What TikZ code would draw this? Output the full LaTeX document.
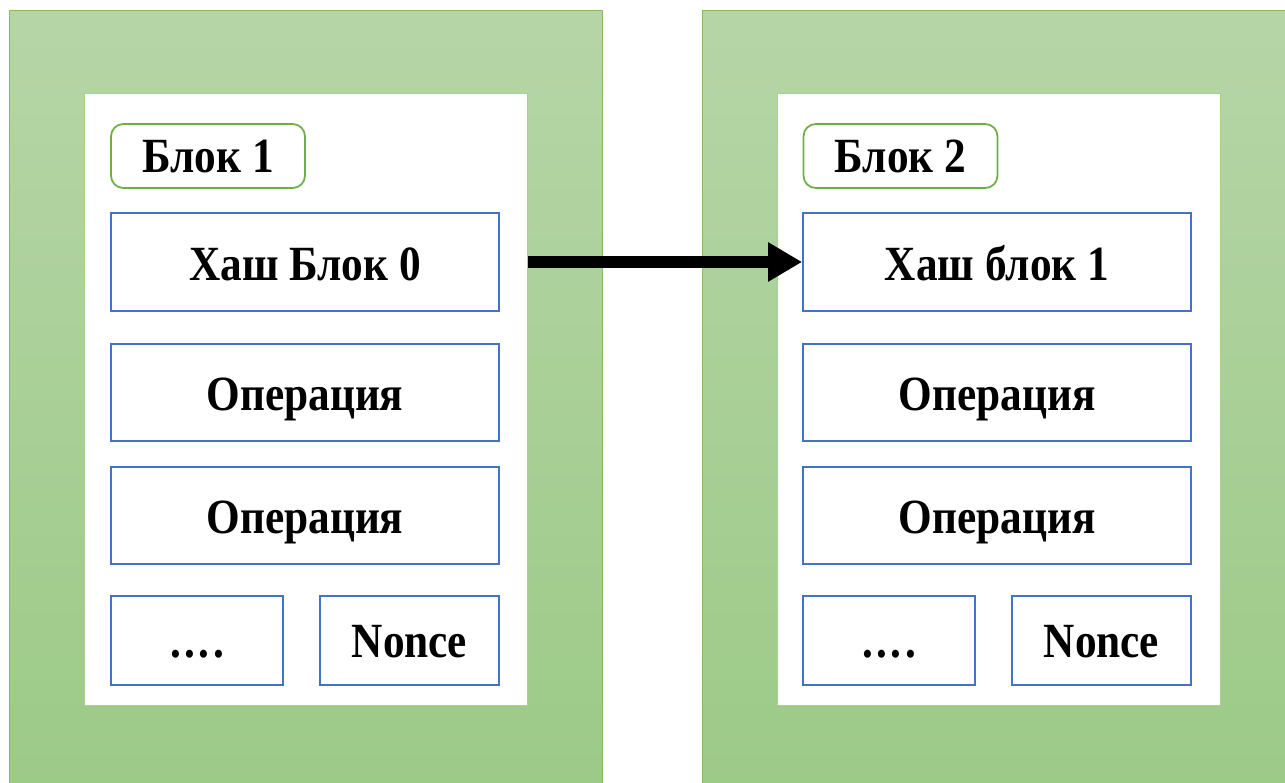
\documentclass[tikz,border=0pt]{standalone}
\usepackage{fontspec}
\setmainfont{Liberation Serif}[FakeStretch=0.88]
\usepackage{tikz}
\usetikzlibrary{shapes,arrows,arrows.meta,positioning}
\definecolor{chaingreen}{HTML}{70AD47}
\definecolor{lightgreen}{HTML}{A9D18E}
\definecolor{boxblue}{HTML}{4472C4}
\tikzstyle{chainbox} = [rectangle, draw=chaingreen!85, line width=0.6pt, top color={rgb,255:red,182;green,213;blue,167}, bottom color={rgb,255:red,156;green,202;blue,135}, minimum width=11.88cm, minimum height=15.6cm, inner sep=0pt]
\tikzstyle{pagebox} = [rectangle, fill=white, draw=lightgreen, line width=0.6pt, minimum width=8.88cm, minimum height=12.26cm, inner sep=0pt]
\tikzstyle{titlebox} = [rectangle, rounded corners=7pt, fill=white, draw=chaingreen, line width=1pt, minimum width=3.88cm, minimum height=1.28cm, inner sep=0pt, text height=0.68cm, text depth=0pt, font=\fontsize{28}{30}\selectfont\bfseries]
\tikzstyle{fieldbox} = [rectangle, fill=white, draw=boxblue, line width=1pt, minimum width=7.76cm, minimum height=1.95cm, inner sep=0pt, text height=0.74cm, text depth=0pt, font=\fontsize{28}{30}\selectfont\bfseries]
\tikzstyle{smallbox} = [fieldbox, minimum width=3.5cm, minimum height=1.78cm, text height=0.7cm]
\tikzstyle{line} = [draw, line width=0.25cm, -{Triangle[length=0.68cm,width=0.74cm]}]

\begin{document}
\begin{tikzpicture}[x=0.02cm, y=-0.02cm]
			\clip (0, 0) rectangle (1285, 783);
			\fill [white] (0, 0) rectangle (1285, 783);

			% block 1
			\node [chainbox] (chain1) at (306, 400) {};
			\node [pagebox] (page1) at (306, 399.5) {};
			\node [titlebox] (title1) at (208, 156) {Блок 1};
			\node [fieldbox] (hash1) at (305, 262) {Хаш Блок 0};
			\node [fieldbox] (op11) at (305, 392.5) {Операция};
			\node [fieldbox] (op12) at (305, 515.5) {Операция};
			\node [smallbox, minimum width=3.44cm] (dots1) at (197, 640.5) {.\kern2pt.\kern2pt.\kern2pt.};
			\node [smallbox, minimum width=3.58cm] (nonce1) at (409.5, 640.5) {Nonce};

			% block 2
			\node [chainbox] (chain2) at (999, 400) {};
			\node [pagebox] (page2) at (999, 399.5) {};
			\node [titlebox] (title2) at (900.5, 156) {Блок 2};
			\node [fieldbox] (hash2) at (997, 262) {Хаш блок 1};
			\node [fieldbox] (op21) at (997, 392.5) {Операция};
			\node [fieldbox] (op22) at (997, 515.5) {Операция};
			\node [smallbox, minimum width=3.44cm] (dots2) at (889, 640.5) {.\kern2pt.\kern2pt.\kern2pt.};
			\node [smallbox, minimum width=3.58cm] (nonce2) at (1101.5, 640.5) {Nonce};

			\path [line] (hash1.east -| page1.east) -- (hash2.west);
		\end{tikzpicture}
\end{document}
